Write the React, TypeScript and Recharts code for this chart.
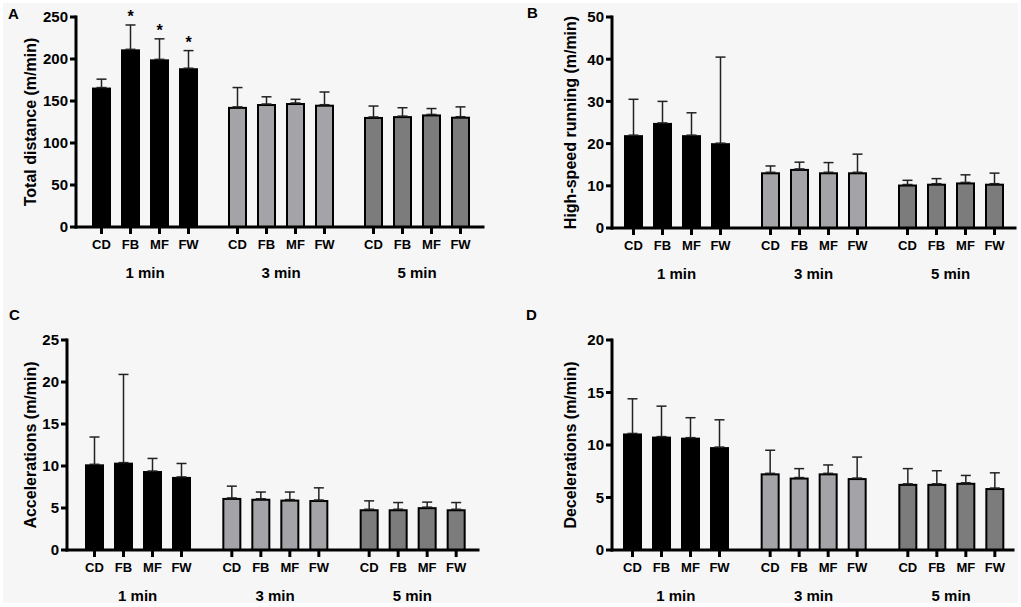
import React from 'react';
import { BarChart, Bar, XAxis, YAxis, ErrorBar } from 'recharts';

// ---------- data ----------
const groups = ['1 min', '3 min', '5 min'];
const positions = ['CD', 'FB', 'MF', 'FW'];

// Total distance (m/min)
const totalMean = [[166, 211.5, 199.6, 189], [143, 146.4, 147.6, 145.6], [131, 132, 134, 131.3]];
const totalSD = [[10, 29, 24.4, 21], [23, 8.6, 4.4, 15.1], [13, 10, 7, 11.7]];
const totalSig = [[false, true, true, true], [false, false, false, false], [false, false, false, false]];
const totalTicks = [0, 50, 100, 150, 200, 250];

// High-speed running (m/min)
const hsrMean = [[22, 24.9, 22, 20.1], [13.2, 14, 13.2, 13.2], [10.3, 10.5, 10.8, 10.5]];
const hsrSD = [[8.5, 5.1, 5.3, 20.4], [1.5, 1.6, 2.3, 4.3], [1.0, 1.2, 1.8, 2.5]];
const hsrTicks = [0, 10, 20, 30, 40, 50];

// Accelerations (m/min)
const accMean = [[10.2, 10.4, 9.4, 8.7], [6.2, 6.1, 6.0, 5.95], [4.85, 4.85, 5.1, 4.85]];
const accSD = [[3.25, 10.5, 1.5, 1.6], [1.4, 0.8, 0.9, 1.45], [1.0, 0.8, 0.6, 0.8]];
const accTicks = [0, 5, 10, 15, 20, 25];

// Decelerations (m/min)
const decMean = [[11.1, 10.8, 10.7, 9.8], [7.3, 6.9, 7.3, 6.85], [6.3, 6.3, 6.4, 5.9]];
const decSD = [[3.3, 2.9, 1.9, 2.6], [2.2, 0.85, 0.8, 2.0], [1.45, 1.25, 0.7, 1.45]];
const decTicks = [0, 5, 10, 15, 20];

// ---------- styles ----------
const FONT = '"Liberation Sans", Arial, Helvetica, sans-serif';
const groupFill: Record<string, string> = { '1 min': '#000000', '3 min': '#a4a4a8', '5 min': '#7c7c7c' };

function buildRows(mean: number[][], sd: number[][], sig?: boolean[][]) {
  return groups.map((g, gi) => {
    const row: any = { group: g };
    positions.forEach((p, pi) => {
      row[p] = mean[gi][pi];
      row[p + '_sd'] = sd[gi][pi];
      row[p + '_err'] = [0, sd[gi][pi]];
      row[p + '_sig'] = sig ? sig[gi][pi] : false;
    });
    return row;
  });
}

const makeShape = (pos: string) => (props: any) => {
  const { x, y, width, height, payload } = props;
  const fill = groupFill[payload.group];
  const base = y + height;
  const cx = x + width / 2;
  const mean = payload[pos];
  const sd = payload[pos + '_sd'];
  const pxPerUnit = mean ? height / mean : 0;
  const errTop = y - sd * pxPerUnit;
  return (
    <g>
      <rect x={x + 1} y={y + 1} width={width - 2} height={Math.max(height - 1, 0)} fill={fill} stroke="#000" strokeWidth={2} />
      <line x1={cx} x2={cx} y1={base} y2={base + 7} stroke="#000" strokeWidth={3} />
      <text x={cx} y={base + 17} textAnchor="middle" dominantBaseline="central" fontFamily={FONT} fontWeight="bold" fontSize={13} fill="#000">
        {pos}
      </text>
      {payload[pos + '_sig'] ? (
        <text x={cx} y={errTop - 3} textAnchor="middle" fontFamily={FONT} fontWeight="bold" fontSize={16} fill="#000">*</text>
      ) : null}
    </g>
  );
};

const GroupTick = (props: any) => {
  const { x, y, payload } = props;
  return (
    <text x={x} y={y + 45} textAnchor="middle" dominantBaseline="central" fontFamily={FONT} fontWeight="bold" fontSize={15} fill="#000">
      {payload.value}
    </text>
  );
};

type Cfg = {
  box: { left: number; top: number; w: number; h: number };
  plotLeft: number; plotTop: number; plotBottom: number; plotRight: number;
  pad: { left: number; right: number };
  labelX: number;
  label: string;
  ticks: number[];
  mean: number[][]; sd: number[][]; sig?: boolean[][];
};

function Panel({ cfg }: { cfg: Cfg }) {
  const { box } = cfg;
  const data = buildRows(cfg.mean, cfg.sd, cfg.sig);
  const yMax = cfg.ticks[cfg.ticks.length - 1];
  const axisStyle = { stroke: '#000', strokeWidth: 3, strokeLinecap: 'square' as const };
  return (
    <div style={{ position: 'absolute', left: box.left, top: box.top }}>
      <BarChart
        width={box.w}
        height={box.h}
        data={data}
        margin={{ top: cfg.plotTop - box.top, right: box.left + box.w - cfg.plotRight, left: 0, bottom: 0 }}
        barSize={19}
        barGap={10}
      >
        <XAxis
          dataKey="group"
          height={box.top + box.h - cfg.plotBottom}
          axisLine={axisStyle}
          tickLine={false}
          tickSize={0}
          tickMargin={0}
          tick={<GroupTick />}
          padding={cfg.pad}
          interval={0}
        />
        <YAxis
          type="number"
          width={cfg.plotLeft - box.left}
          domain={[0, yMax]}
          ticks={cfg.ticks}
          interval={0}
          axisLine={axisStyle}
          tickLine={{ stroke: '#000', strokeWidth: 3 }}
          tickSize={6}
          tickMargin={2}
          tick={{ fontSize: 15, fontWeight: 'bold', fill: '#000', fontFamily: FONT }}
          label={{
            content: (p: any) => {
              const vb = p.viewBox || {};
              const lx = cfg.labelX - box.left;
              const ly = (vb.y ?? 0) + (vb.height ?? 0) / 2;
              return (
                <text
                  x={lx}
                  y={ly}
                  transform={`rotate(-90, ${lx}, ${ly})`}
                  textAnchor="middle"
                  dominantBaseline="central"
                  fontFamily={FONT}
                  fontWeight="bold"
                  fontSize={16}
                  fill="#000"
                >
                  {cfg.label}
                </text>
              );
            },
          }}
        />
        {positions.map((p) => (
          <Bar key={p} dataKey={p} shape={makeShape(p)} isAnimationActive={false} fill="#000">
            <ErrorBar dataKey={p + '_err'} width={5} stroke="#222" strokeWidth={1.5} direction="y" isAnimationActive={false} />
          </Bar>
        ))}
      </BarChart>
    </div>
  );
}

const panels: Cfg[] = [
  {
    box: { left: 0, top: 0, w: 505, h: 300 },
    plotLeft: 76, plotTop: 17, plotBottom: 227, plotRight: 483,
    pad: { left: 1, right: -2 }, labelX: 30,
    label: 'Total distance (m/min)', ticks: totalTicks,
    mean: totalMean, sd: totalSD, sig: totalSig,
  },
  {
    box: { left: 505, top: 0, w: 516, h: 300 },
    plotLeft: 612, plotTop: 17, plotBottom: 228, plotRight: 1015,
    pad: { left: -4, right: -4 }, labelX: 570,
    label: 'High-speed running (m/min)', ticks: hsrTicks,
    mean: hsrMean, sd: hsrSD,
  },
  {
    box: { left: 0, top: 300, w: 505, h: 307 },
    plotLeft: 67, plotTop: 340, plotBottom: 550, plotRight: 478,
    pad: { left: 2, right: -3 }, labelX: 30,
    label: 'Accelerations (m/min)', ticks: accTicks,
    mean: accMean, sd: accSD,
  },
  {
    box: { left: 505, top: 300, w: 516, h: 307 },
    plotLeft: 612, plotTop: 340, plotBottom: 550, plotRight: 1013,
    pad: { left: -5, right: -7 }, labelX: 570,
    label: 'Decelerations (m/min)', ticks: decTicks,
    mean: decMean, sd: decSD,
  },
];

const letters = [
  { t: 'A', x: 8, y: 19 },
  { t: 'B', x: 527, y: 18 },
  { t: 'C', x: 9, y: 320 },
  { t: 'D', x: 526, y: 320 },
];

export default function App() {
  return (
    <div style={{ position: 'absolute', left: 0, top: 0, width: 1021, height: 607, background: '#ffffff', overflow: 'hidden' }}>
      <div style={{ position: 'absolute', left: 3, top: 3, width: 1015, height: 600, background: '#f6f6f6' }} />
      <svg width={1021} height={607} style={{ position: 'absolute', left: 0, top: 0 }}>
        {letters.map((l) => (
          <text key={l.t} x={l.x} y={l.y} fontFamily={FONT} fontWeight="bold" fontSize={15} fill="#000">
            {l.t}
          </text>
        ))}
      </svg>
      {panels.map((cfg, i) => (
        <Panel key={i} cfg={cfg} />
      ))}
    </div>
  );
}
